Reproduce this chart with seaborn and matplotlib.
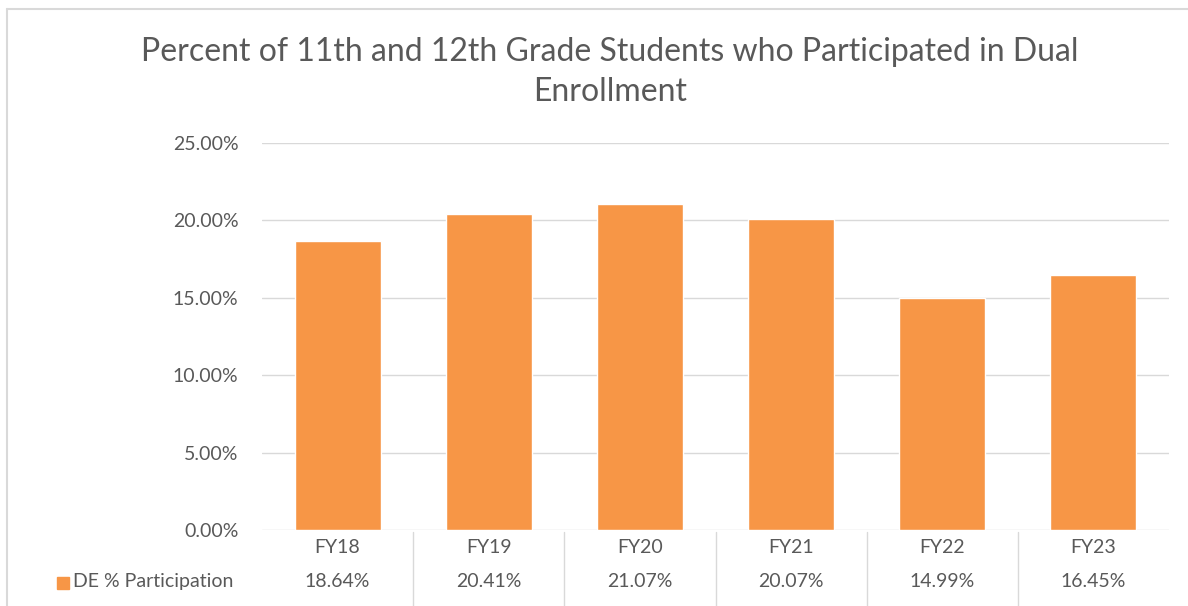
import matplotlib
matplotlib.use("Agg")
import matplotlib.pyplot as plt
from matplotlib.lines import Line2D
from matplotlib.patches import Rectangle
import seaborn as sns
import pandas as pd

# data
years = ["FY18", "FY19", "FY20", "FY21", "FY22", "FY23"]
participation = [18.64, 20.41, 21.07, 20.07, 14.99, 16.45]
series_name = "DE % Participation"
title = "Percent of 11th and 12th Grade Students who Participated in Dual\nEnrollment"

orange = "#F79646"
txt = "#595959"
grid = "#D9D9D9"

sns.set_theme(style="white")
plt.rcParams["font.family"] = ["Lato", "DejaVu Sans"]

df = pd.DataFrame({"year": years, "pct": participation})

W, H = 1188, 606
fig = plt.figure(figsize=(W / 100, H / 100), dpi=100)
ax = fig.add_axes([262 / W, (H - 530) / H, (1169 - 262) / W, (530 - 143) / H])

sns.barplot(data=df, x="year", y="pct", color=orange, width=0.57,
            saturation=1, ax=ax, zorder=2)

ax.set_ylim(0, 25)
ax.set_xlim(-0.5, len(years) - 0.5)
ax.set_yticks(range(0, 26, 5))
ax.set_yticklabels([f"{v:.2f}%" for v in range(0, 26, 5)], color=txt, fontsize=14)
ax.tick_params(axis="y", length=0, pad=17)
ax.set_xticks([])
ax.set_xlabel("")
ax.set_ylabel("")
ax.grid(axis="y", color=grid, linewidth=1, zorder=0)
for s in ax.spines.values():
    s.set_visible(False)

# data table below the axis
tr = ax.get_xaxis_transform()
for i, (y, v) in enumerate(zip(years, participation)):
    ax.text(i, -0.045, y, transform=tr, ha="center", va="center",
            color=txt, fontsize=14, clip_on=False)
    ax.text(i, -0.133, f"{v:.2f}%", transform=tr, ha="center", va="center",
            color=txt, fontsize=14, clip_on=False)
for b in range(1, len(years)):
    ax.add_line(Line2D([b - 0.5, b - 0.5], [-0.005, -0.2], transform=tr,
                       color=grid, linewidth=1, clip_on=False))

# legend key in the table
fig.add_artist(Rectangle((57 / W, 1 - 589 / H), 12 / W, 12 / H,
                         transform=fig.transFigure, color=orange))
fig.text(73 / W, 1 - 582 / H, series_name, color=txt, fontsize=14,
         ha="left", va="center")

fig.text(610 / W, 1 - 72 / H, title, color=txt, fontsize=23,
         ha="center", va="center", linespacing=1.42)

# chart border (left and top visible)
fig.add_artist(Line2D([7 / W, 7 / W], [0, 1 - 9 / H], transform=fig.transFigure,
                      color=grid, linewidth=1.5))
fig.add_artist(Line2D([7 / W, 1], [1 - 9 / H, 1 - 9 / H], transform=fig.transFigure,
                      color=grid, linewidth=1.5))

fig.savefig("out.png", dpi=100, facecolor="white")
